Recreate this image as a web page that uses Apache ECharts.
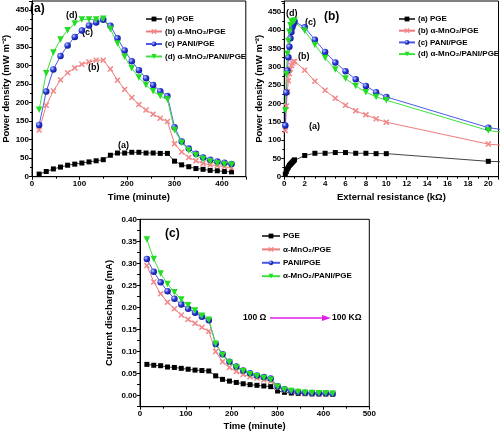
<!DOCTYPE html>
<html><head><meta charset="utf-8">
<script src="https://cdn.jsdelivr.net/npm/echarts@6/dist/echarts.min.js"></script>
<style>html,body{margin:0;padding:0;background:#fff}#c{width:500px;height:433px}</style>
</head><body><div id="c"></div>
<script>
// ---------- data ----------
var timeMin = [15,30,45,60,75,90,105,120,135,150,165,180,195,210,225,240,255,270,285,300,315,330,345,360,375,390,405,420];
var resistanceK = [0.1,0.2,0.3,0.4,0.5,0.6,0.7,0.8,0.9,1,2,3,4,5,6,7,8,9,10,20,30,40,50,60,70,80,90,100];

var pdPGE  = [7,14,21,26,31,34,37,40,43,46,58,64,64,66,66,64,64,63,63,42,32,27,22,20,17,16,14,13];
var pdMnO2 = [126,193,232,262,281,294,304,310,315,315,291,261,236,214,195,180,169,158,149,89,67,52,43,36,32,30,27,24];
var pdPANI = [140,230,290,326,355,378,395,409,417,424,408,374,341,312,288,266,248,231,218,134,95,76,62,52,46,41,38,34];
var pdComp = [181,280,336,371,396,414,425,425,425,427,399,360,324,293,268,248,231,218,209,126,92,71,57,48,41,36,33,32];

var iPGE  = [0.071,0.069,0.068,0.065,0.064,0.062,0.060,0.058,0.057,0.056,0.045,0.037,0.033,0.030,0.027,0.025,0.0235,0.022,0.0205,0.0106,0.0076,0.006,0.0053,0.0046,0.004,0.004,0.0038,0.0035];
var iMnO2 = [0.295,0.258,0.231,0.212,0.197,0.183,0.173,0.164,0.155,0.146,0.100,0.077,0.064,0.055,0.048,0.043,0.040,0.036,0.033,0.019,0.013,0.010,0.0076,0.006,0.0053,0.0046,0.0038,0.0038];
var iPANI = [0.310,0.281,0.257,0.237,0.220,0.207,0.197,0.188,0.179,0.171,0.117,0.094,0.077,0.066,0.057,0.051,0.046,0.0425,0.0387,0.0213,0.0144,0.0106,0.0083,0.0068,0.006,0.0053,0.0053,0.0046];
var iComp = [0.354,0.310,0.277,0.253,0.2345,0.218,0.205,0.193,0.181,0.172,0.118,0.092,0.075,0.064,0.0554,0.0486,0.044,0.040,0.0364,0.0205,0.0137,0.0106,0.0083,0.0068,0.006,0.0053,0.0053,0.0046];

var namesAB = ['(a) PGE','(b) α-MnO₂/PGE','(c) PANI/PGE','(d) α-MnO₂/PANI/PGE'];
var namesC  = ['PGE','α-MnO₂/PGE','PANI/PGE','α-MnO₂/PANI/PGE'];

// ---------- styles ----------
var FONT = 'Liberation Sans, Arial, sans-serif';
var crossPath = 'path://M0,0 L2,0 L5,3 L8,0 L10,0 L10,2 L7,5 L10,8 L10,10 L8,10 L5,7 L2,10 L0,10 L0,8 L3,5 L0,2 Z';
var styles = [
  {line:'#444', symbol:'rect', size:5, color:'#000', rotate:0},
  {line:'#f07a7a', symbol:crossPath, size:5.5, color:'#f08a8a', rotate:0},
  {line:'#4a5ae8', symbol:'circle', size:6.5, color:{type:'radial',x:0.35,y:0.35,r:0.75,colorStops:[{offset:0,color:'#c8d0ff'},{offset:0.45,color:'#2a3ad8'},{offset:1,color:'#0a148a'}]}, rotate:0},
  {line:'#3ee23e', symbol:'triangle', size:6.5, color:'#22dd22', rotate:180}
];

function pairs(xs, ys){ return xs.map(function(x,i){return [x, ys[i]];}); }

function mkSeries(name, xs, ys, k, idx){
  var s = styles[k];
  return {
    name:name, type:'line', xAxisIndex:idx, yAxisIndex:idx,
    data:pairs(xs, ys), symbol:s.symbol, symbolSize:s.size, symbolRotate:s.rotate,
    showAllSymbol:true, clip:true, animation:false,
    lineStyle:{color:s.line, width:1},
    itemStyle:{color:s.color, borderWidth:0}
  };
}

var axisLbl = {color:'#000', fontFamily:FONT, fontWeight:'bold', fontSize:8};
var axisNameStyle = {color:'#000', fontFamily:FONT, fontWeight:'bold', fontSize:9.5};
function baseAxis(extra){
  var a = {
    axisLine:{show:true, onZero:false, lineStyle:{color:'#000', width:1}},
    axisTick:{show:true, length:3, inside:false, lineStyle:{color:'#000'}},
    minorTick:{show:true, splitNumber:2, length:2, lineStyle:{color:'#000'}},
    splitLine:{show:false},
    nameLocation:'middle',
    nameTextStyle:axisNameStyle
  };
  for (var k in extra) a[k] = extra[k];
  return a;
}

var series = [];
var pdSets = [pdPGE, pdMnO2, pdPANI, pdComp];
var iSets = [iPGE, iMnO2, iPANI, iComp];
for (var k=0;k<4;k++) series.push(mkSeries(namesAB[k], timeMin, pdSets[k], k, 0));
for (var k=0;k<4;k++) series.push(mkSeries(namesAB[k], resistanceK, pdSets[k], k, 1));
for (var k=0;k<4;k++) series.push(mkSeries(namesC[k], timeMin, iSets[k], k, 2));

function legend(left, top, gap, names, w){
  return {
    left:left, top:top, orient:'vertical', itemWidth:w, itemHeight:6, itemGap:gap,
    data:names, selectedMode:false,
    textStyle:{color:'#000', fontFamily:FONT, fontWeight:'bold', fontSize:8, padding:[0,0,0,-2]}
  };
}

function txt(x, y, s, size){
  return {type:'text', left:x, top:y, style:{text:s, fill:'#000', font:'bold '+size+'px '+FONT}};
}

var option = {
  backgroundColor:'#fff',
  animation:false,
  textStyle:{fontFamily:FONT},
  grid:[
    {left:29.3, top:1, width:216.5, height:175.7, show:true, borderColor:'#000', borderWidth:1, backgroundColor:'transparent'},
    {left:284.3, top:1, width:214.2, height:175.7, show:true, borderColor:'#000', borderWidth:1, backgroundColor:'transparent'},
    {left:140, top:219.3, width:229.3, height:187.4, show:true, borderColor:'#000', borderWidth:1, backgroundColor:'transparent'}
  ],
  xAxis:[
    baseAxis({gridIndex:0, type:'value', min:0, max:450, interval:100, name:'Time (minute)', nameGap:16,
      axisLabel:Object.assign({margin:3, showMaxLabel:false}, axisLbl)}),
    baseAxis({gridIndex:1, type:'value', min:0, max:21, interval:2, name:'External resistance (kΩ)', nameGap:16,
      axisLabel:Object.assign({margin:3, showMaxLabel:false}, axisLbl)}),
    baseAxis({gridIndex:2, type:'value', min:0, max:500, interval:100, name:'Time (minute)', nameGap:15,
      axisLabel:Object.assign({margin:3}, axisLbl)})
  ],
  yAxis:[
    baseAxis({gridIndex:0, type:'value', min:0, max:475, interval:50, name:'Power density (mW m⁻²)', nameGap:21,
      axisLabel:Object.assign({margin:3, showMaxLabel:false}, axisLbl)}),
    baseAxis({gridIndex:1, type:'value', min:0, max:480, interval:50, name:'Power density (mW m⁻²)', nameGap:20,
      axisLabel:Object.assign({margin:3, showMaxLabel:false}, axisLbl)}),
    baseAxis({gridIndex:2, type:'value', min:-0.025, max:0.4, interval:0.025, name:'Current discharge (mA)', nameGap:26,
      minorTick:{show:false},
      axisLabel:Object.assign({margin:3, formatter:function(v){
        var r = Math.round(v*1000);
        if (r < 0 || r % 50 !== 0) return '';
        return (r/1000).toFixed(2);
      }}, axisLbl)})
  ],
  legend:[
    legend(140, 10, 4.5, namesAB, 16),
    legend(393, 10, 3.7, namesAB, 16),
    legend(256, 227, 5.4, namesC, 18)
  ],
  graphic:[
    txt(30, 3, '(a)', 12),
    txt(66, 11, '(d)', 9), txt(82, 28, '(c)', 9), txt(88, 63, '(b)', 9), txt(118, 141, '(a)', 9),
    txt(324, 11, '(b)', 12),
    txt(286, 9, '(d)', 9), txt(305, 18, '(c)', 9), txt(298, 52, '(b)', 9), txt(309, 122, '(a)', 9),
    txt(165, 228, '(c)', 12),
    txt(243, 313.5, '100 Ω', 8.5), txt(332, 313.5, '100 KΩ', 8.5),
    {type:'line', shape:{x1:270, y1:318, x2:324, y2:318}, style:{stroke:'#e020e0', lineWidth:1.5}},
    {type:'polygon', shape:{points:[[322,315],[331,318],[322,321]]}, style:{fill:'#e020e0'}}
  ],
  series:series
};

var chart = echarts.init(document.getElementById('c'), null, {renderer:'canvas'});
chart.setOption(option);
</script>
</body></html>
